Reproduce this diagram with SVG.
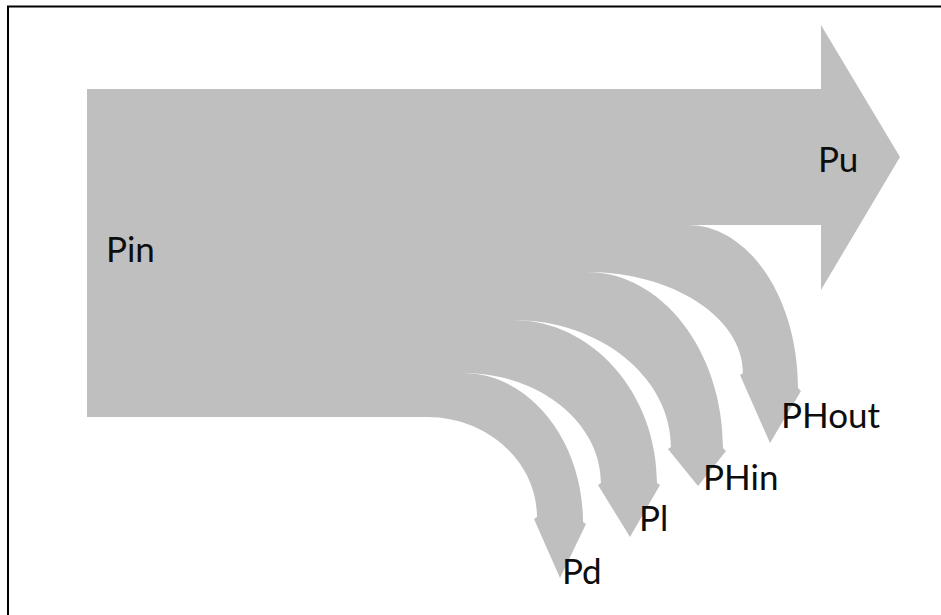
<svg xmlns="http://www.w3.org/2000/svg" width="941" height="615" viewBox="0 0 941 615">
<style>
.flow{fill:#bfbfbf;stroke:none}
.lbl{font-family:Lato,"Liberation Sans",sans-serif;font-size:35px;fill:#0d0d0d}
.frame{fill:none;stroke:#000;stroke-width:2}
</style>
<rect width="941" height="615" fill="#fff"/>
<path class="frame" d="M8,615 V6.5 H941"/>
<g id="main">
<path class="flow" d="M87,89 H821 V25 L900,157 L821,290 V225 H587 V272 H513 V320 H463 V373 H427 V417 H87 Z"/>
<text class="lbl" x="106" y="262">Pin</text>
<text class="lbl" x="818" y="172">Pu</text>
</g>
<g id="connectors">
<g id="phout">
<path class="flow" d="M587,225 H688 C748.5,225 798,298 798,388 L801,391 L770,443 L740,375 L743,373 C743,317.5 672.8,272 587,272 Z"/>
<text class="lbl" x="781" y="428">PHout</text>
</g>
<g id="phin">
<path class="flow" d="M513,272 H587 C661.8,272 723,351.2 723,448 L726,451 L698,486 L668,449 L671,447 C671,377.2 599.9,320 513,320 Z"/>
<text class="lbl" x="703" y="490">PHin</text>
</g>
<g id="pl">
<path class="flow" d="M463,320 H513 C592.2,320 657,393.4 657,483 L660,485 L630,537 L598,485 L601,483 C601,422.5 538.9,373 463,373 Z"/>
<text class="lbl" x="639" y="531">Pl</text>
</g>
<g id="pd">
<path class="flow" d="M427,373 H463 C529,373 583,440 583,522 L586,524 L560,578 L534,519 L537,517 C537,462 487.5,417 427,417 Z"/>
<text class="lbl" x="562" y="584">Pd</text>
</g>
</g>
</svg>
